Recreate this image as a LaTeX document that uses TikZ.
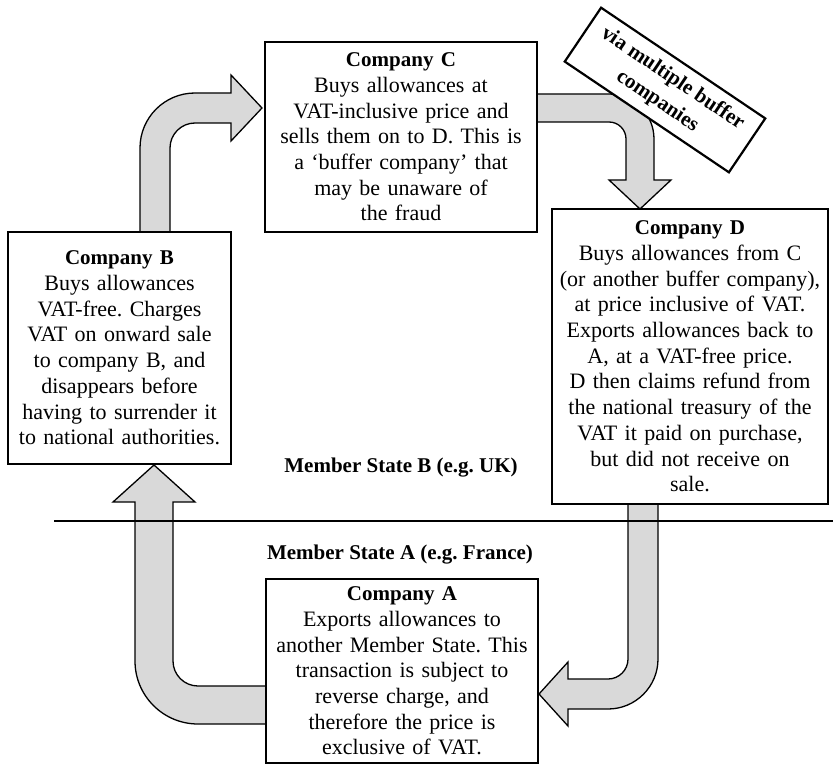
\documentclass[tikz,border=0pt]{standalone}
\usepackage{fontspec}
\setmainfont{Liberation Serif}
\frenchspacing
\begin{document}
\begin{tikzpicture}[x=1pt,y=-1pt,
  body/.style={font=\fontsize{22}{25.7}\selectfont\frenchspacing, align=center},
  cbox/.style={body, draw=black, line width=2.2pt, fill=white, inner sep=0pt},
  flow/.style={draw=black, line width=1.3pt, fill=black!15, line join=miter},
  lbl/.style={font=\fontsize{21}{25.5}\selectfont\bfseries, inner sep=0pt}
]
\useasboundingbox (0,0) rectangle (833,765);
\newcommand{\ttl}[1]{{\fontsize{21}{25.7}\selectfont\bfseries #1}}

% block arrows
\draw[flow] (140,234) -- (140,148) .. controls (140,117.6) and (164.6,93) .. (195,93)
  -- (231,93) -- (231,75) -- (262,108) -- (231,141) -- (231,123) -- (195,123)
  .. controls (181.2,123) and (170,134.2) .. (170,148) -- (170,234) -- cycle;
\draw[flow] (530,94) -- (609,94) .. controls (633.8,94) and (654,114.2) .. (654,139)
  -- (654,180) -- (671,180) -- (640,209) -- (609,180) -- (626,180) -- (626,139)
  .. controls (626,129.6) and (618.4,122) .. (609,122) -- (530,122) -- cycle;
\draw[flow] (628,502) -- (628,659) .. controls (628,670) and (619,679) .. (608,679)
  -- (568,679) -- (568,662) -- (539,694) -- (568,726) -- (568,709) -- (608,709)
  .. controls (635.6,709) and (658,686.6) .. (658,659) -- (658,502) -- cycle;
\draw[flow] (268,686) -- (198,686) .. controls (184.2,686) and (173,674.8) .. (173,661)
  -- (173,502) -- (195,502) -- (154,465) -- (113,502) -- (135,502) -- (135,661)
  .. controls (135,695.8) and (163.2,724) .. (198,724) -- (268,724) -- cycle;

% divider
\coordinate (divL) at (54,521);
\coordinate (divR) at (833,521);
\draw[line width=2.2pt] (divL) -- (divR);

% boxes
\node[cbox, minimum width=272pt, minimum height=190pt, text width=264pt] (C) at (401,137)
  {\ttl{Company C}\\Buys allowances at\\VAT-inclusive price and\\sells them on to D. This is\\a ‘buffer company’ that\\may be unaware of\\the fraud};
\node[cbox, minimum width=223pt, minimum height=232pt, text width=219pt] (B) at (119.5,348)
  {\ttl{Company B}\\Buys allowances\\VAT-free. Charges\\VAT on onward sale\\to company B, and\\disappears before\\having to surrender it\\to national authorities.};
\node[cbox, minimum width=276pt, minimum height=295pt, text width=270pt] (D) at (690,356.5)
  {\ttl{Company D}\\Buys allowances from C\\(or another buffer company),\\at price inclusive of VAT.\\Exports allowances back to\\A, at a VAT-free price.\\D then claims refund from\\the national treasury of the\\VAT it paid on purchase,\\but did not receive on\\sale.};
\node[cbox, minimum width=272pt, minimum height=184pt, text width=266pt] (A) at (402,671)
  {\ttl{Company A}\\Exports allowances to\\another Member State. This\\transaction is subject to\\reverse charge, and\\therefore the price is\\exclusive of VAT.};

% rotated label box
\node[draw=black, line width=2.2pt, fill=white, inner sep=0pt, minimum width=198pt,
  minimum height=65pt, rotate=-34, align=center,
  font=\fontsize{21}{27}\selectfont\bfseries] (via) at (665,90)
  {via multiple buffer\\companies};

% member state labels
\node[lbl] (msB) at (401,468) {Member State B (e.g. UK)};
\node[lbl] (msA) at (400,555) {Member State A (e.g. France)};
\end{tikzpicture}
\end{document}
